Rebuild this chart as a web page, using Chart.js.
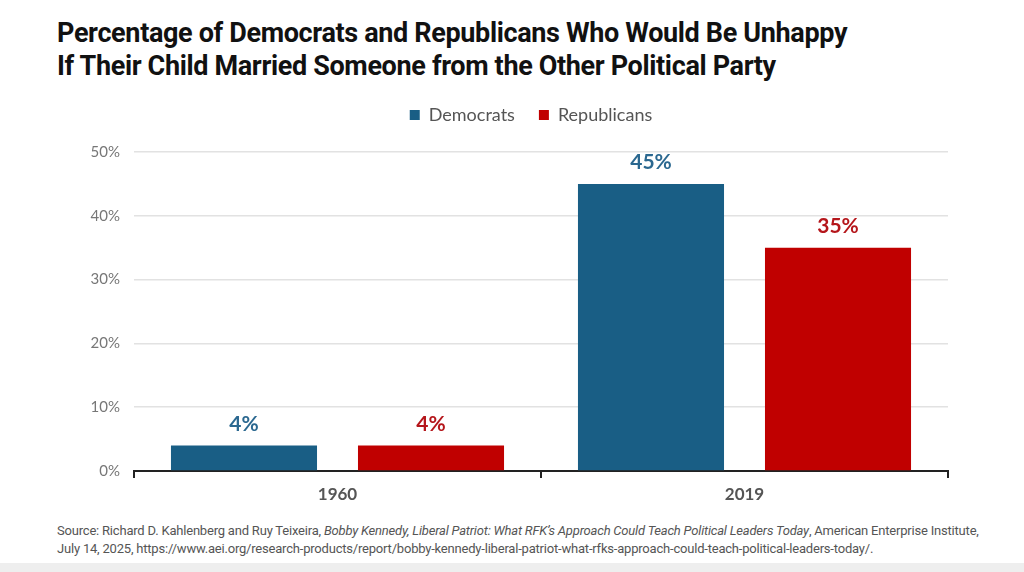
<!DOCTYPE html>
<html>
<head>
<meta charset="utf-8">
<script src="https://cdn.jsdelivr.net/npm/chart.js@4"></script>
<style>
  body { margin: 0; background: #fff; width: 1024px; height: 572px; overflow: hidden; position: relative; font-family: Lato, sans-serif; }
  #title { position: absolute; left: 57px; top: 17px; font-family: Roboto, sans-serif; font-weight: 700; font-size: 27px; line-height: 33px; color: #111; letter-spacing: -0.35px; }
  #wrap { position: absolute; left: 0; top: 82px; width: 1024px; height: 433px; }
  #source { position: absolute; left: 57px; top: 522px; font-family: Roboto, sans-serif; font-size: 13px; line-height: 18px; color: #555; letter-spacing: -0.2px; }
  #band { position: absolute; left: 0; top: 563px; width: 1024px; height: 9px; background: #eeeeee; }
</style>
</head>
<body>
<div id="title">Percentage of Democrats and Republicans Who Would Be Unhappy<br>If Their Child Married Someone from the Other Political Party</div>
<div id="wrap"><canvas id="bar-chart"></canvas></div>
<div id="source">Source: Richard D. Kahlenberg and Ruy Teixeira, <i>Bobby Kennedy, Liberal Patriot: What RFK’s Approach Could Teach Political Leaders Today</i>, American Enterprise Institute,<br>July 14, 2025, https://www.aei.org/research-products/report/bobby-kennedy-liberal-patriot-what-rfks-approach-could-teach-political-leaders-today/.</div>
<div id="band"></div>
<script>
const years = ['1960', '2019']
const democrats = [4, 45]
const republicans = [4, 35]
const yTicks = [0, 10, 20, 30, 40, 50]

const BLUE = '#195e85'
const RED = '#c00000'

// value labels over each bar
const barLabels = {
  id: 'barLabels',
  afterDatasetsDraw(chart) {
    const ctx = chart.ctx
    ctx.save()
    ctx.font = 'bold 21px Lato'
    ctx.textAlign = 'center'
    ctx.textBaseline = 'bottom'
    chart.data.datasets.forEach((ds, i) => {
      const meta = chart.getDatasetMeta(i)
      ctx.fillStyle = ds.labelColor
      meta.data.forEach((bar, j) => {
        ctx.fillText(ds.data[j] + '%', bar.x, bar.y - 11)
      })
    })
    ctx.restore()
  }
}

// extra room under the legend, and center it over the plot area
const legendGap = {
  id: 'legendGap',
  beforeInit(chart) {
    const fit = chart.legend.fit
    chart.legend.fit = function () {
      fit.bind(chart.legend)()
      this.height += 18
    }
  },
  afterLayout(chart) {
    chart.legend.left = chart.chartArea.left - 20
  }
}

const barCtx = document.getElementById('bar-chart').getContext('2d')
new Chart(barCtx, {
  type: 'bar',
  data: {
    labels: years,
    datasets: [{
      label           : 'Democrats',
      backgroundColor : BLUE,
      labelColor      : '#2b6890',
      data            : democrats,
    }, {
      label           : 'Republicans',
      backgroundColor : RED,
      labelColor      : '#b5161b',
      data            : republicans,
    }],
  },
  options: {
    responsive: true,
    maintainAspectRatio: false,
    animation: false,
    categoryPercentage: 0.919,
    barPercentage: 0.781,
    layout: { padding: { left: 0, right: 76, top: 0, bottom: 0 } },
    plugins: {
      legend: {
        position: 'top',
        labels: {
          boxWidth: 10,
          boxHeight: 10,
          padding: 24,
          color: '#555',
          font: { family: 'Lato', size: 18 },
        },
      },
      tooltip: { enabled: false },
    },
    scales: {
      x: {
        offset: true,
        grid: { offset: true, drawOnChartArea: false, drawTicks: true, tickLength: 7, color: '#222', lineWidth: 2 },
        border: { display: true, color: '#222', width: 2 },
        ticks: { color: '#555', padding: 6, font: { family: 'Lato', size: 17, weight: 'bold' } },
        afterFit: (s) => { s.height = 44 },
      },
      y: {
        min: 0,
        max: 50,
        afterBuildTicks: (s) => { s.ticks = yTicks.map(v => ({ value: v })) },
        grid: { color: '#e2e2e2', lineWidth: 1.5, drawTicks: false },
        border: { display: false },
        ticks: { color: '#777', padding: 14, font: { family: 'Lato', size: 15 }, callback: (v) => v + '%' },
        afterFit: (s) => { s.width = 134 },
      },
    },
  },
  plugins: [barLabels, legendGap],
})
</script>
</body>
</html>
